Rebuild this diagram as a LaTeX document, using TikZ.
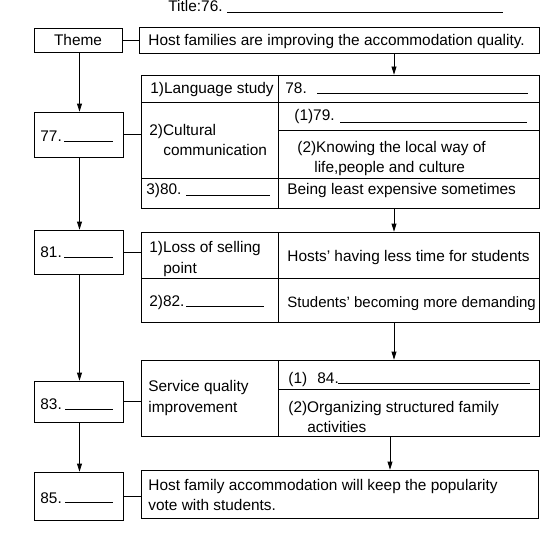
\documentclass[tikz,border=0pt]{standalone}
\usepackage{fontspec}
\setmainfont{Liberation Sans}
\usetikzlibrary{arrows.meta}
\begin{document}
\begin{tikzpicture}[x=1pt,y=-1pt,line width=0.8pt,
  every node/.style={font=\fontsize{15.4}{18}\selectfont},
  box/.style={draw,inner sep=0pt},
  txt/.style={inner sep=0pt,anchor=base west},
  arr/.style={-{Triangle[width=5pt,length=8pt]}}]
\useasboundingbox (0,0) rectangle (541,535);
% title
\node[txt] (title) at (168,12) {Title:76.};
\draw (227,12) -- (503,12);
% left column boxes
\node[box,minimum width=88pt,minimum height=24pt] (theme) at (78,40) {Theme};
\node[box,minimum width=89pt,minimum height=45pt] (b77) at (78.5,134.5) {};
\node[box,minimum width=89pt,minimum height=44pt] (b81) at (78.5,252) {};
\node[box,minimum width=89pt,minimum height=41pt] (b83) at (78.5,401.5) {};
\node[box,minimum width=89pt,minimum height=48pt] (b85) at (78.5,496) {};
% right boxes and tables
\node[box,minimum width=400pt,minimum height=26pt] (host) at (339.5,40) {};
\node[box,minimum width=398pt,minimum height=133pt] (t1) at (340,141.5) {};
\node[box,minimum width=398pt,minimum height=90pt] (t2) at (340,277) {};
\node[box,minimum width=398pt,minimum height=76pt] (t3) at (340,398) {};
\node[box,minimum width=397pt,minimum height=48pt] (fin) at (339.5,494) {};
% table inner lines
\draw (141,102) -- (539,102);
\draw (141,178) -- (539,178);
\draw (278,75) -- (278,208);
\draw (278,130) -- (539,130);
\draw (141,278) -- (539,278);
\draw (278,232) -- (278,322);
\draw (278,389) -- (539,389);
\draw (278,360) -- (278,436);
% texts
\node[txt] (hostt) at (148,46) {Host families are improving the accommodation quality.};
\node[txt] (ls) at (150,93) {1)Language study};
\node[txt] (n78) at (285,93) {78.};
\draw (317,93.5) -- (528,93.5);
\node[txt] (n79) at (294,121) {(1)79.};
\draw (340,122) -- (527,122);
\node[txt] (cc1) at (149,135) {2)Cultural};
\node[txt] (cc2) at (163,155) {communication};
\node[txt] (kn1) at (297,152) {(2)Knowing the local way of};
\node[txt] (kn2) at (314,172) {life,people and culture};
\node[txt] (n80) at (146,194) {3)80.};
\draw (186,195) -- (270,195);
\node[txt] (be) at (287,194) {Being least expensive sometimes};
\node[txt] (lo1) at (149,252) {1)Loss of selling};
\node[txt] (lo2) at (163,273) {point};
\node[txt] (ho) at (287,261) {Hosts' having less time for students};
\node[txt] (n82) at (149,306) {2)82.};
\draw (186,306.5) -- (264,306.5);
\node[txt,font=\fontsize{15}{18}\selectfont] (st) at (287,307) {Students' becoming more demanding};
\node[txt] (sq1) at (148,391) {Service quality};
\node[txt] (sq2) at (148,412) {improvement};
\node[txt] (n84a) at (288,383) {(1)};
\node[txt] (n84) at (317,383) {84.};
\draw (338,383.5) -- (530,383.5);
\node[txt] (or1) at (288,412) {(2)Organizing structured family};
\node[txt] (or2) at (307,432) {activities};
\node[txt] (fi1) at (148,490) {Host family accommodation will keep the popularity};
\node[txt] (fi2) at (148,510) {vote with students.};
\node[txt] (n77) at (40,141) {77.};
\draw (64,141) -- (113,141);
\node[txt] (n81) at (40,257) {81.};
\draw (64,257) -- (113,257);
\node[txt] (n83) at (40,409) {83.};
\draw (65,409) -- (113,409);
\node[txt] (n85) at (40,503) {85.};
\draw (65,502) -- (113,502);
% connectors
\coordinate (ax) at (394,0);
\coordinate (ax2) at (390,0);
\coordinate (lx) at (79.5,0);
\draw (theme.east) -- (host.west);
\draw (b77.east) -- (b77.east -| t1.west);
\draw (b81.east) -- (b81.east -| t2.west);
\draw (b83.east) -- (b83.east -| t3.west);
\draw (b85.east) -- (b85.east -| fin.west);
\draw[arr] (theme.south -| lx) -- (b77.north -| lx);
\draw[arr] (b77.south -| lx) -- (b81.north -| lx);
\draw[arr] (b81.south -| lx) -- (b83.north -| lx);
\draw[arr] (b83.south -| lx) -- (b85.north -| lx);
\draw[arr] (host.south -| ax) -- (t1.north -| ax);
\draw[arr] (t1.south -| ax) -- (t2.north -| ax);
\draw[arr] (t2.south -| ax) -- (t3.north -| ax);
\draw[arr] (t3.south -| ax2) -- (fin.north -| ax2);
\end{tikzpicture}
\end{document}
